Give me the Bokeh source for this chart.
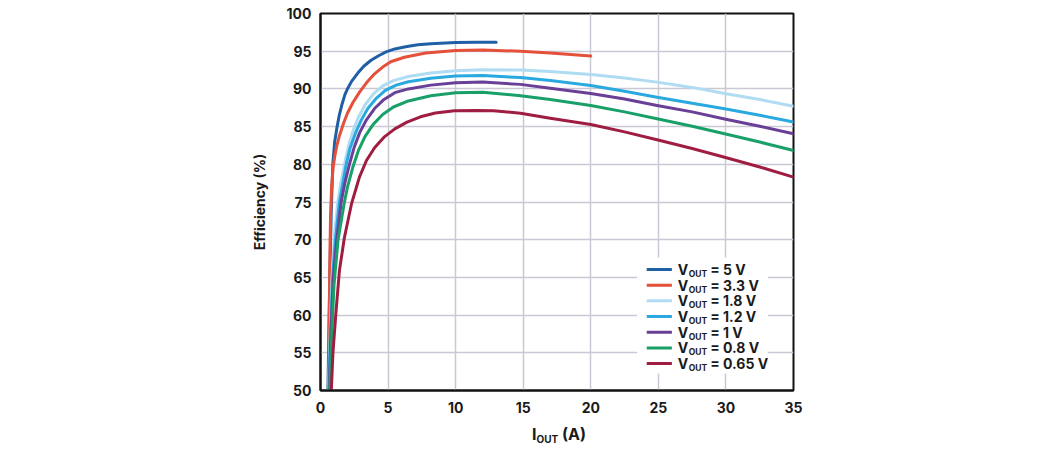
from bokeh.plotting import figure
from bokeh.models import Range1d, FixedTicker, ColumnDataSource, Div
from bokeh.layouts import column
from bokeh.core.properties import value
from bokeh.embed import file_html
from bokeh.resources import INLINE

# ---------------- data ----------------
x_ticks = [0, 5, 10, 15, 20, 25, 30, 35]
y_ticks = [50, 55, 60, 65, 70, 75, 80, 85, 90, 95, 100]

series_names = ["5 V", "3.3 V", "1.8 V", "1.2 V", "1 V", "0.8 V", "0.65 V"]
series_colors = ["#1f5fa6", "#e4503a", "#afdcf2", "#29a9e0", "#6a3f98", "#19a068", "#a01d42"]

x_5v0 = [0.55, 0.62, 0.7, 0.8, 0.91, 1.05, 1.23, 1.4, 1.6, 1.8, 2.02, 2.3, 2.76, 3.2, 3.74, 4.3, 4.85, 5.5, 6.3, 7.2, 8.16, 10.0, 11.5, 13.0]
y_5v0 = [50, 58, 66, 74, 80, 83.0, 85, 86.6, 88.0, 89.2, 90.1, 91.0, 92.1, 93.0, 93.8, 94.4, 94.9, 95.3, 95.6, 95.85, 96.0, 96.15, 96.2, 96.2]

x_3v3 = [0.6, 0.64, 0.68, 0.74, 0.82, 0.93, 1.05, 1.2, 1.4, 1.72, 2.0, 2.4, 2.9, 3.4, 4.0, 4.6, 5.2, 6.2, 7.8, 10.0, 12.0, 14.8, 17.0, 20.0]
y_3v3 = [50, 58, 66, 73, 77, 79.5, 81, 82.4, 83.8, 85.5, 86.8, 88.2, 89.6, 90.8, 92.0, 92.9, 93.6, 94.2, 94.75, 95.1, 95.15, 95.0, 94.75, 94.35]

x_1v8 = [0.6, 0.72, 0.85, 1.05, 1.28, 1.45, 1.77, 2.05, 2.4, 2.8, 3.3, 3.9, 4.6, 5.4, 6.5, 8.16, 10.0, 12.0, 14.8, 17.0, 20.0, 22.5, 24.9, 27.5, 29.9, 32.5, 35.0]
y_1v8 = [50, 58, 65, 71, 75, 77, 80, 82.3, 84.4, 86.2, 87.9, 89.3, 90.4, 91.1, 91.65, 92.1, 92.4, 92.55, 92.5, 92.3, 91.9, 91.45, 90.9, 90.2, 89.4, 88.6, 87.7]

x_1v2 = [0.62, 0.75, 0.9, 1.1, 1.4, 1.6, 1.9, 2.2, 2.6, 3.0, 3.5, 4.1, 4.8, 5.6, 6.5, 8.16, 10.0, 12.0, 14.8, 17.0, 20.0, 22.5, 24.9, 27.5, 29.9, 32.5, 35.0]
y_1v2 = [50, 58, 65, 70, 75, 77, 80, 82.2, 84.2, 85.8, 87.4, 88.7, 89.8, 90.5, 90.95, 91.4, 91.7, 91.78, 91.5, 91.1, 90.45, 89.7, 88.9, 88.1, 87.36, 86.5, 85.6]

x_1v0 = [0.65, 0.78, 0.95, 1.2, 1.53, 1.8, 2.14, 2.5, 2.9, 3.4, 4.0, 4.7, 5.5, 6.5, 8.16, 10.0, 12.0, 14.8, 17.0, 20.0, 22.5, 24.9, 27.5, 29.9, 32.5, 35.0]
y_1v0 = [50, 58, 65, 70, 75, 77.5, 80, 82.3, 84.2, 85.9, 87.4, 88.6, 89.5, 90.0, 90.5, 90.8, 90.9, 90.6, 90.1, 89.4, 88.65, 87.8, 86.95, 86.0, 85.05, 84.05]

x_0v8 = [0.68, 0.82, 1.0, 1.3, 1.77, 2.0, 2.39, 2.8, 3.3, 3.9, 4.6, 5.4, 6.5, 8.16, 10.0, 12.0, 14.8, 17.0, 20.0, 22.5, 24.9, 27.5, 29.9, 32.5, 35.0]
y_0v8 = [50, 57, 64, 70, 75, 77, 79.6, 81.8, 83.7, 85.3, 86.6, 87.6, 88.4, 89.1, 89.5, 89.55, 89.1, 88.6, 87.8, 86.95, 86.03, 85.05, 84.05, 82.95, 81.83]

x_0v65 = [0.8, 0.92, 1.15, 1.4, 1.77, 2.3, 2.88, 3.4, 4.0, 4.7, 5.5, 6.4, 7.4, 8.5, 9.9, 11.5, 12.8, 14.8, 17.0, 20.0, 22.5, 24.9, 27.5, 29.9, 32.5, 35.0]
y_0v65 = [50, 55, 60.5, 65.9, 70.3, 74.8, 78.3, 80.5, 82.2, 83.6, 84.7, 85.6, 86.3, 86.8, 87.1, 87.15, 87.1, 86.78, 86.1, 85.28, 84.3, 83.25, 82.1, 80.94, 79.65, 78.3]

series_x = [x_5v0, x_3v3, x_1v8, x_1v2, x_1v0, x_0v8, x_0v65]
series_y = [y_5v0, y_3v3, y_1v8, y_1v2, y_1v0, y_0v8, y_0v65]

# ---------------- styling ----------------
FONT = "Inter"
TXT = "#1a1a1a"
GRID = "#c9c9d6"

p = figure(width=1034, height=420, output_backend="svg", toolbar_location=None,
           x_range=Range1d(0, 35), y_range=Range1d(50, 100),
           min_border_left=320, min_border_right=241,
           min_border_top=13, min_border_bottom=30)
p.background_fill_color = "white"
p.border_fill_color = "white"
p.outline_line_color = "#111111"
p.outline_line_width = 2

p.xaxis.ticker = FixedTicker(ticks=x_ticks)
p.yaxis.ticker = FixedTicker(ticks=y_ticks)
for ax in (p.xaxis, p.yaxis):
    ax.major_tick_line_color = None
    ax.minor_tick_line_color = None
    ax.axis_line_color = "#111111"
    ax.axis_line_width = 2
    ax.major_label_text_font = FONT
    ax.major_label_text_font_style = "bold"
    ax.major_label_text_font_size = "14px"
    ax.major_label_text_color = TXT
p.xaxis.major_label_standoff = 5
p.yaxis.major_label_standoff = 3

p.yaxis.axis_label = "Efficiency (%)"
p.yaxis.axis_label_text_font = FONT
p.yaxis.axis_label_text_font_style = "bold"
p.yaxis.axis_label_text_font_size = "14px"
p.yaxis.axis_label_text_color = TXT
p.yaxis.axis_label_standoff = 16

p.grid.grid_line_color = GRID
p.grid.grid_line_width = 1.5

# legend background (covers grid)
leg_left, leg_right, leg_bottom, leg_top = 23.43, 33.1, 52.25, 67.6
p.quad(left=[leg_left], right=[leg_right], bottom=[leg_bottom], top=[leg_top],
       fill_color="white", line_color=None)

for xs, ys, c in zip(series_x, series_y, series_colors):
    p.line(xs, ys, line_color=c, line_width=3, line_join="round", line_cap="round")

# custom legend with subscript
row0 = 66.05
step = 2.08
sw_x0, sw_x1 = 24.14, 26.0
txt_x = 26.43
rows = [row0 - i * step for i in range(len(series_names))]
p.segment(x0=[sw_x0] * len(rows), x1=[sw_x1] * len(rows), y0=rows, y1=rows,
          line_color=series_colors, line_width=3)
src = ColumnDataSource(dict(x=[txt_x] * len(rows), y=rows,
                            v=["V"] * len(rows), sub=["OUT"] * len(rows),
                            rest=["= " + n for n in series_names]))
p.text(x="x", y="y", text="v", source=src, text_font=value(FONT), text_font_style="bold",
       text_font_size="14px", text_color=TXT, text_baseline="middle", text_align="left")
p.text(x="x", y="y", text="sub", source=src, text_font=value(FONT), text_font_style="bold",
       text_font_size="8.5px", text_color=TXT, text_baseline="middle", text_align="left",
       x_offset=11.0, y_offset=4.5)
p.text(x="x", y="y", text="rest", source=src, text_font=value(FONT), text_font_style="bold",
       text_font_size="14px", text_color=TXT, text_baseline="middle", text_align="left",
       x_offset=32.5)

# x axis title with subscript (HTML text below the figure)
xtitle = Div(
    text=('<div style="font-family: Inter, sans-serif; font-weight: bold; font-size: 16px; '
          'line-height: 16px; color: #1a1a1a; padding-top: 6px; padding-left: 532px; white-space: nowrap;">'
          'I<span style="font-size: 10px; vertical-align: -3px;">OUT</span> (A)</div>'),
    width=1034, height=30, margin=(0, 0, 0, 0))

layout = column(p, xtitle, spacing=0)
open("out.html", "w").write(file_html(layout, INLINE))
